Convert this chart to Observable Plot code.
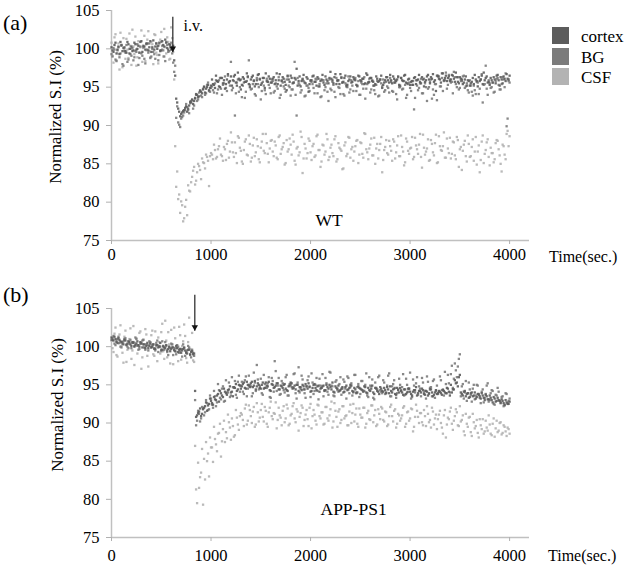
<!DOCTYPE html>
<html><head><meta charset="utf-8">
<script src="https://cdn.jsdelivr.net/npm/d3@7"></script>
<script src="https://cdn.jsdelivr.net/npm/@observablehq/plot@0.6"></script>
<style>
body{margin:0;background:#fff;}
#root{position:relative;width:630px;height:567px;overflow:hidden;font-family:"Liberation Serif","Times New Roman",serif;color:#000;background:#fff;}
.abs{position:absolute;white-space:nowrap;line-height:1;}
.ylab{transform:translate(-50%,-50%) rotate(-90deg);font-size:17px;}
.plab{font-size:22px;transform:translateY(-50%);}
.tlab{font-size:16px;transform:translateY(-50%);}
.sw{position:absolute;width:17px;height:17px;}
.lt{position:absolute;font-size:17px;transform:translateY(-50%);line-height:1;}
.panel{position:absolute;left:0;}
</style></head><body><div id="root"></div>
<script>
// sampling interval of each array (seconds); "2" arrays are the samples in between (offset 10 s)
const STEP = 20;
const OFFSET2 = 10;
const SERIES = ["cortex", "BG", "CSF"];
const COLORS = ["#5c5c5c", "#7b7b7b", "#b3b3b3"];
const X_TICKS = [0, 1000, 2000, 3000, 4000];
const Y_TICKS = [75, 80, 85, 90, 95, 100, 105];

// (a) WT  -- t = 0,20,...,4000
const wtCortex = [
100.2,99.6,100.8,99.9,99.3,100.5,100.1,99.7,100.9,99.4,
100.3,99.8,100.6,100.0,99.5,101.0,100.4,99.9,100.7,100.2,
99.6,101.1,100.3,100.0,100.8,99.8,100.5,101.2,100.1,100.6,
99.9,100.4,
96.5,93.0,91.8,91.5,91.9,92.3,91.8,92.6,93.0,92.8,93.6,94.0,93.8,94.4,94.7,94.3,95.0,94.6,95.2,
95.4,94.9,95.8,95.1,96.2,95.5,94.8,96.0,95.6,96.4,
95.9,96.6,95.2,96.1,94.7,96.3,95.7,96.8,95.4,96.0,
96.5,95.1,95.9,96.7,95.3,96.2,94.9,95.8,96.4,95.6,
96.1,95.4,96.8,95.9,95.2,96.3,95.7,94.6,96.0,96.5,
95.5,96.2,97.4,95.8,95.1,96.0,95.6,96.3,94.4,95.9,
96.4,95.7,95.2,96.1,95.8,96.6,95.3,96.0,95.5,97.0,
95.9,96.3,95.4,95.9,96.7,95.6,96.2,95.1,95.8,96.4,
95.7,96.0,95.3,96.5,95.9,96.1,95.4,96.8,95.6,96.2,
95.8,95.2,96.4,95.7,96.0,94.9,95.6,96.3,95.9,96.6,
95.5,96.1,95.8,96.4,95.2,95.9,96.5,95.6,96.0,95.3,
95.8,96.2,95.4,96.0,95.7,96.3,95.1,95.9,96.6,95.5,
96.1,95.7,94.5,96.4,96.0,96.8,95.9,96.5,96.2,95.8,
96.6,96.1,96.9,95.7,96.3,96.0,95.6,96.4,95.9,95.2,
95.7,95.4,96.0,95.1,95.8,96.5,96.9,96.2,95.6,95.3,
95.9,96.3,95.5,96.6,95.2,96.0,96.4,95.8,96.1,96.5
];
// t = 10,30,...,3990
const wtCortex2 = [
99.8,100.5,99.4,100.3,100.9,99.7,100.2,99.5,100.6,100.0,
99.7,100.8,99.9,100.4,100.9,99.6,100.3,100.7,99.8,101.0,
100.2,99.9,100.7,100.4,99.7,101.0,100.3,100.8,99.9,100.5,
100.2,
98.5,93.5,92.2,91.2,91.7,92.0,92.5,92.2,93.1,93.4,93.2,94.1,93.7,94.5,94.2,95.0,94.8,95.3,94.9,
96.0,95.3,96.5,95.7,95.0,96.2,95.9,95.4,96.7,95.8,
95.2,96.4,95.6,96.9,95.9,95.3,96.1,95.7,96.4,95.0,
96.3,95.8,95.4,96.6,96.0,95.5,96.2,96.8,95.7,96.1,
95.6,96.3,95.9,95.4,96.7,95.8,96.1,95.3,96.5,95.7,
96.2,95.6,96.0,95.2,96.4,95.8,96.6,95.5,96.1,95.4,
95.9,96.5,95.7,96.3,95.1,96.0,95.6,96.4,95.8,96.2,
96.1,95.5,96.7,95.9,95.4,96.2,95.7,96.5,95.3,96.0,
95.6,96.3,95.9,95.2,96.4,95.8,96.1,95.5,96.6,95.7,
96.2,95.7,95.4,96.1,95.8,96.5,95.3,95.9,96.3,95.6,
95.9,96.4,95.6,96.0,95.3,96.2,95.8,96.6,95.5,96.1,
95.7,95.3,96.3,95.9,96.6,95.5,96.0,95.7,96.4,96.0,
96.3,96.7,95.9,96.5,96.1,95.6,96.8,96.2,95.8,96.4,
96.0,96.5,95.7,96.3,95.5,96.1,95.4,96.0,95.2,95.8,
95.5,96.2,96.6,95.8,96.3,96.0,95.4,95.9,96.4,95.7,
96.2,95.6,96.0,96.5,95.9,96.3,95.5,96.1,96.7,96.0
];
const wtBG = [
99.3,100.1,98.6,99.8,98.9,100.4,97.8,99.5,98.3,100.0,
99.1,98.5,99.7,100.6,98.8,99.4,100.2,98.1,99.9,100.7,
99.0,99.6,98.7,100.3,99.2,100.9,99.8,98.4,100.5,99.7,
100.8,98.2,
97.8,92.5,90.1,90.9,91.3,92.0,92.4,91.6,93.2,92.2,93.5,93.2,94.3,93.9,94.8,94.0,95.3,94.5,94.9,
94.6,95.5,94.2,95.9,94.8,95.3,96.4,94.5,95.7,98.3,
94.9,91.3,95.6,94.4,96.0,95.2,93.6,95.8,98.5,94.7,
95.4,94.1,96.2,95.0,93.4,95.7,94.6,96.1,95.3,94.2,
95.8,94.5,95.1,96.3,94.0,95.6,94.8,96.0,95.2,93.9,
94.7,98.3,91.3,95.5,94.3,96.1,93.8,95.2,94.9,95.8,
95.4,94.2,96.0,95.1,93.7,95.9,94.6,95.5,93.2,94.8,
95.7,94.4,96.2,95.0,94.1,95.6,93.9,95.3,96.4,94.7,
95.2,96.1,94.5,95.8,94.0,95.4,96.3,94.8,95.6,94.3,
95.9,94.6,95.3,93.8,96.0,95.1,94.4,95.7,94.9,96.2,
94.5,95.6,94.1,96.3,95.0,94.7,95.8,93.6,95.4,94.9,
95.3,92.1,95.9,94.6,95.5,94.2,96.1,95.0,94.8,95.7,
93.5,94.0,95.4,96.5,95.1,96.2,95.8,96.9,95.3,96.0,
95.7,97.0,95.4,96.3,94.9,95.8,96.5,95.1,94.6,95.9,
94.4,95.2,94.1,95.6,94.8,96.7,95.3,97.8,94.0,95.5,
95.0,94.3,95.8,96.2,94.7,95.4,96.0,96.8,90.9,95.6
];
const wtBG2 = [
99.0,99.9,98.4,100.2,99.4,98.0,99.7,100.5,98.6,99.3,
100.1,98.9,99.6,97.9,100.3,99.1,98.7,100.6,99.5,98.8,
100.0,99.3,100.7,98.5,99.8,100.4,99.0,100.9,99.6,100.2,
99.4,
97.0,91.0,90.4,89.8,91.1,91.7,92.8,92.0,92.9,93.3,92.6,94.0,93.4,94.6,93.7,95.1,94.2,95.6,94.4,
95.1,94.3,95.9,94.7,96.2,94.0,95.5,94.9,96.5,95.2,
94.6,95.8,94.2,96.0,95.0,93.7,95.6,94.4,96.3,95.3,
94.8,95.9,93.9,95.4,96.1,94.5,95.2,94.1,95.7,94.9,
96.0,94.3,95.5,94.8,93.6,95.9,95.1,94.4,96.4,95.0,
94.7,95.6,94.0,96.2,95.3,94.6,95.8,93.9,95.2,94.5,
95.7,94.9,96.1,94.2,95.4,93.8,95.9,95.0,94.4,96.0,
94.6,95.3,93.7,95.8,94.9,96.3,94.1,95.5,95.0,94.3,
95.9,94.5,96.2,95.1,94.0,95.6,94.8,93.5,95.4,96.1,
94.7,95.2,94.1,95.8,93.9,95.5,96.0,94.6,95.1,94.3,
95.7,94.4,95.9,93.4,95.0,96.2,94.8,95.3,94.0,95.6,
94.5,95.8,93.6,95.2,94.9,96.1,94.2,95.5,93.2,95.0,
96.0,94.7,95.4,93.3,96.4,95.1,94.5,95.9,94.8,96.6,
95.6,94.2,96.3,95.0,94.7,95.8,96.4,94.9,95.5,94.3,
95.2,93.9,94.6,95.7,94.1,96.0,93.0,95.4,94.8,95.9,
94.9,95.6,94.4,96.1,95.3,94.7,96.3,95.0,89.9,95.8
];
const wtCSF = [
100.8,98.2,101.9,99.4,97.3,100.5,101.4,98.7,99.9,102.0,
97.9,100.3,101.6,98.9,99.5,102.4,100.1,98.4,101.2,99.7,
100.9,98.0,101.8,99.2,100.6,102.2,99.0,100.2,101.5,98.6,
102.8,99.6,
87.3,84.0,81.0,80.1,77.5,79.4,78.3,81.5,82.6,84.1,82.3,83.9,84.7,83.0,85.2,84.4,85.9,82.1,86.4,
85.6,86.8,85.9,87.3,86.2,85.4,86.9,87.6,85.8,89.1,
86.5,87.8,85.1,88.4,86.7,85.0,87.9,86.2,88.7,85.3,
87.4,86.0,88.2,85.6,87.1,88.9,86.4,87.7,85.2,88.0,
86.6,87.9,85.8,88.5,86.3,87.2,84.9,88.1,86.9,87.5,
88.8,85.4,87.0,86.1,89.2,83.8,87.6,85.7,88.3,86.5,
87.3,85.9,88.6,86.8,84.6,87.5,86.2,88.9,85.5,87.1,
86.4,88.2,85.3,87.7,86.9,84.3,87.4,86.0,88.5,85.8,
87.2,86.6,88.0,85.1,87.8,86.3,89.0,86.9,85.6,87.5,
86.1,88.4,87.0,85.7,87.6,83.9,86.8,88.1,86.2,87.3,
85.4,87.9,86.5,88.6,86.0,87.2,84.8,88.3,86.7,87.0,
88.5,85.9,87.4,86.3,88.9,84.5,87.1,86.6,88.2,85.5,
87.6,86.1,88.8,85.2,87.3,86.7,89.1,85.8,87.0,88.4,
86.3,87.8,85.6,88.1,86.9,84.2,87.5,86.0,88.7,85.9,
87.2,85.4,88.5,86.6,83.9,87.9,85.1,86.8,88.2,84.8,
86.4,85.2,87.7,88.0,86.1,84.0,87.3,85.6,89.3,88.6
];
const wtCSF2 = [
99.1,101.5,98.5,100.7,102.1,97.6,100.0,101.3,98.8,100.4,
102.5,99.3,97.8,101.0,100.2,98.3,101.7,99.8,102.3,98.9,
100.6,101.9,99.5,98.1,101.2,100.0,102.6,99.4,100.9,98.7,
101.4,
96.0,82.0,80.4,78.6,79.6,77.9,80.3,82.2,81.4,83.3,84.6,82.8,85.0,84.2,85.7,85.1,86.2,85.4,86.0,
86.2,87.5,85.7,86.9,88.3,86.0,87.2,85.5,88.0,86.6,
87.8,85.9,86.4,88.6,87.1,85.3,86.8,88.2,86.1,87.6,
85.8,88.4,86.5,87.3,85.2,87.9,86.7,88.9,86.3,87.0,
88.1,86.0,87.4,85.6,88.7,86.9,87.7,85.1,86.6,88.3,
86.2,87.9,84.9,87.2,86.5,88.5,85.7,87.0,86.4,88.0,
85.5,87.6,86.1,88.8,86.8,85.3,87.4,86.6,88.2,85.9,
87.5,86.0,88.6,85.6,87.1,86.7,84.4,87.8,86.3,88.4,
86.9,85.4,87.3,88.1,86.2,87.7,85.8,88.9,86.5,87.0,
88.3,86.1,85.0,87.6,86.8,88.5,85.5,87.2,86.4,88.0,
86.7,88.2,85.7,87.4,86.0,88.7,86.6,85.2,87.9,86.3,
87.1,85.6,88.4,86.9,87.5,85.9,88.8,86.2,87.0,85.4,
88.1,86.5,87.7,85.1,88.6,86.8,87.3,85.8,88.3,86.4,
85.7,87.9,86.1,88.5,84.6,87.2,86.7,88.0,85.3,87.6,
86.0,88.2,86.6,84.9,87.4,85.5,88.7,86.3,87.8,85.9,
87.1,86.4,85.6,88.1,86.9,85.0,87.5,86.2,88.9,87.3
];

// (b) APP-PS1
const apCortex = [
101.2,100.8,101.0,100.5,100.9,100.6,100.3,100.8,100.4,100.6,
100.1,100.5,100.2,100.7,100.0,100.4,100.3,99.8,100.5,100.1,
99.9,100.3,99.7,100.2,100.0,99.6,100.1,99.8,99.5,100.0,
99.7,99.9,99.4,99.8,99.6,99.2,99.7,99.5,99.1,99.6,
99.3,99.0,
94.2,91.0,91.5,90.9,91.8,92.2,91.6,92.5,92.9,92.4,
93.1,93.6,92.8,93.9,93.4,94.1,93.7,94.4,94.0,93.5,
94.6,94.2,95.0,94.5,
95.1,94.6,95.4,94.9,95.2,94.7,95.5,94.8,95.0,94.5,
95.3,94.6,94.9,95.4,94.2,95.0,94.7,95.2,94.4,94.9,
94.6,95.1,94.3,94.8,95.3,94.5,94.9,95.0,94.2,94.7,
95.0,94.4,94.8,95.2,94.1,94.6,95.1,94.3,94.9,94.5,
94.8,94.2,95.0,94.5,94.7,95.3,94.0,94.6,94.9,94.3,
94.7,94.1,94.9,94.4,95.0,94.2,94.6,93.9,94.8,94.5,
94.3,94.8,94.0,94.6,94.2,94.9,93.8,94.5,94.1,94.7,
94.2,94.6,93.9,94.4,94.8,94.0,94.5,93.7,94.3,94.6,
94.0,94.4,93.8,94.5,94.1,93.6,94.3,94.7,93.9,94.2,
94.5,93.8,94.2,93.6,94.4,94.0,93.7,94.3,93.9,94.1,
93.7,94.2,93.9,94.5,93.6,94.0,94.4,95.2,94.8,96.3,
93.8,94.1,93.5,93.9,93.4,94.0,93.6,93.2,93.8,93.5,
93.9,93.3,93.7,93.1,93.6,93.0,93.4,92.8,93.3,92.9,
93.1,92.6,93.0,92.5,92.8
];
const apCortex2 = [
100.9,101.3,100.6,101.1,100.7,100.4,100.9,100.2,100.7,100.3,
100.6,100.0,100.4,100.2,100.6,99.9,100.3,100.1,99.8,100.4,
100.0,99.7,100.2,99.9,100.5,99.6,99.9,100.2,99.7,99.4,
99.9,99.6,100.1,99.3,99.7,99.5,99.9,99.2,99.6,99.0,
99.4,99.1,
90.8,91.3,91.9,91.2,92.0,92.7,92.3,93.2,92.6,93.4,93.0,93.8,
94.2,93.6,94.5,93.9,94.3,94.8,94.1,94.7,95.1,94.4,94.9,
94.8,95.3,94.5,95.0,94.7,95.4,94.9,94.4,95.2,94.6,
95.0,94.5,95.3,94.8,94.3,95.1,94.6,94.9,95.2,94.4,
94.8,95.0,94.5,94.2,94.9,95.2,94.6,94.4,95.0,94.7,
94.3,94.8,95.1,94.5,94.7,94.2,95.0,94.6,94.8,94.1,
94.6,94.9,94.3,94.7,95.0,94.4,94.1,94.8,94.5,94.2,
94.5,94.0,94.7,94.3,94.6,94.9,94.1,94.4,94.0,94.6,
94.4,94.1,94.7,93.9,94.3,94.5,94.0,94.6,94.2,93.8,
94.5,94.1,94.3,94.7,93.9,94.2,94.4,93.8,94.6,94.0,
94.2,93.7,94.4,94.0,94.5,93.8,94.1,94.3,93.6,94.2,
94.0,94.3,93.7,94.1,93.9,94.4,93.5,94.0,93.8,94.2,
93.9,94.3,94.0,94.6,94.1,95.0,94.4,95.6,95.3,96.0,
94.0,93.6,94.2,93.8,93.3,93.9,93.5,94.0,93.4,93.7,
93.2,93.6,93.0,93.5,93.1,93.3,92.7,93.2,92.9,93.0,
92.6,92.9,92.4,92.7,92.5
];
const apBG = [
100.9,101.4,100.2,101.0,100.5,99.9,100.7,101.1,100.0,100.4,
99.8,100.6,101.2,100.1,99.7,100.5,100.9,99.6,100.2,100.7,
99.9,100.3,99.5,100.8,100.1,99.4,100.0,100.6,99.3,99.9,
100.4,98.9,99.8,100.2,99.2,99.7,100.3,98.8,99.5,99.9,
98.6,99.2,
93.0,90.3,91.2,90.6,91.9,91.4,92.6,91.8,93.2,92.0,
93.5,92.7,94.3,93.1,94.8,92.9,94.0,95.3,93.6,94.7,
95.5,93.3,96.2,94.9,
94.1,95.6,93.5,96.2,94.8,93.9,95.3,97.6,94.4,95.8,
93.7,95.1,94.6,96.0,93.3,95.5,98.1,94.2,95.9,93.8,
95.2,94.0,96.3,93.6,95.0,94.7,96.5,93.2,97.3,94.5,
95.7,93.9,94.8,96.1,93.4,95.3,94.2,95.9,93.1,94.9,
96.4,94.3,95.2,93.7,96.6,94.8,93.5,95.6,94.1,96.0,
94.5,95.4,93.2,95.9,94.7,93.6,96.3,94.0,95.1,93.8,
95.5,94.2,96.5,93.4,94.9,95.7,93.1,94.6,96.0,94.3,
93.9,95.3,94.0,96.2,93.5,94.8,95.6,93.3,94.4,95.0,
94.7,93.6,95.8,94.1,96.6,93.4,94.9,95.2,93.7,94.5,
95.9,94.0,93.2,95.4,94.6,93.5,95.7,94.2,93.8,96.1,
94.3,93.6,95.1,96.3,94.0,97.5,95.8,96.9,97.4,99.0,
94.8,93.2,95.5,93.9,94.4,92.8,95.0,93.6,94.9,93.3,
94.1,92.7,93.8,95.2,93.0,94.3,92.5,93.7,94.6,92.9,
93.4,92.2,93.9,92.6,93.2
];
const apBG2 = [
101.1,100.4,100.8,101.3,100.0,100.6,101.0,100.3,99.8,100.9,
100.5,100.1,101.0,99.6,100.4,100.8,99.9,100.3,99.5,100.6,
100.2,99.8,100.5,99.3,100.0,100.7,99.6,100.1,98.9,99.8,
100.3,99.5,99.0,100.0,99.4,98.7,99.8,99.3,100.1,98.9,
99.6,98.8,
89.7,91.6,90.2,92.1,91.0,93.0,91.7,93.6,92.4,94.2,92.2,95.1,
93.3,94.5,92.8,95.6,94.0,93.4,96.0,94.6,93.7,95.4,94.1,
95.4,93.8,96.1,94.5,95.0,93.5,96.6,94.2,95.7,94.8,
93.9,96.3,94.6,95.2,93.4,95.9,94.1,96.8,94.9,93.7,
95.5,94.3,96.0,93.6,95.1,94.7,96.4,93.9,95.3,94.0,
96.2,94.4,93.3,95.6,94.8,96.5,93.8,95.0,94.2,95.8,
94.6,93.5,95.9,94.1,96.7,94.9,93.6,95.4,94.3,95.1,
93.7,95.7,94.5,96.1,93.9,95.2,94.0,96.3,94.7,93.4,
95.5,94.2,95.0,93.6,96.0,94.8,93.3,95.3,94.4,96.2,
94.1,95.6,93.8,94.9,96.5,93.5,95.1,94.6,93.9,95.8,
94.3,96.4,93.7,95.0,94.5,93.2,95.7,94.0,96.0,94.8,
93.5,95.3,94.2,96.1,93.8,94.7,95.5,93.3,94.9,94.1,
95.6,94.4,96.7,93.9,95.2,96.4,94.6,97.8,96.0,98.4,
93.5,95.1,94.0,92.9,95.3,93.7,94.5,93.1,95.0,93.8,
92.6,94.4,93.3,94.9,92.8,93.9,94.2,92.4,93.6,94.1,
92.7,93.5,92.3,93.8,92.9
];
const apCSF = [
100.8,99.3,102.5,98.7,101.6,100.1,97.9,102.1,99.6,101.0,
98.4,102.7,100.5,99.1,101.8,97.1,100.9,102.3,98.8,100.2,
101.5,99.0,102.0,98.1,100.6,101.9,99.4,103.4,98.6,100.3,
102.2,97.7,101.1,99.8,102.6,98.3,100.7,101.4,97.9,103.8,
99.5,98.2,
87.0,79.5,81.5,83.5,79.3,82.6,85.0,83.0,86.8,84.9,
87.9,86.3,88.7,85.6,89.2,87.5,88.0,90.1,87.8,89.6,
88.4,90.7,89.1,91.3,
90.4,91.9,89.8,92.3,90.9,91.5,89.5,92.6,90.2,91.7,
90.8,92.1,89.9,91.4,92.8,90.5,91.2,89.3,92.0,90.7,
91.6,90.1,92.4,89.7,91.0,92.2,90.6,91.8,89.0,91.3,
92.0,90.4,91.7,89.6,92.5,90.9,91.1,89.8,92.3,90.6,
91.4,89.9,92.1,90.3,91.8,89.4,92.6,90.8,91.5,90.0,
92.2,90.6,91.0,89.7,92.4,91.3,90.2,91.9,89.5,91.1,
90.7,92.0,89.9,91.6,90.4,92.3,91.0,89.6,91.8,90.5,
91.9,90.2,91.4,89.8,92.1,90.9,91.6,89.4,91.2,90.3,
91.0,92.2,89.9,91.5,90.6,91.8,89.5,92.4,90.8,91.3,
90.1,91.7,89.6,91.2,90.4,92.0,89.8,91.1,90.5,91.6,
89.4,91.0,88.1,90.7,91.5,89.9,90.3,91.8,89.7,92.2,
90.4,88.9,91.2,89.5,90.8,88.3,90.1,89.6,88.7,90.5,
89.2,88.6,90.3,89.0,89.8,88.4,90.6,89.3,88.8,90.0,
88.5,89.7,88.9,89.4,88.6
];
const apCSF2 = [
99.8,101.7,98.9,100.4,102.8,99.2,101.3,98.0,100.7,102.4,
99.5,97.6,101.1,100.2,102.0,98.6,99.9,101.6,97.4,100.5,
102.1,98.8,100.0,101.2,99.1,103.0,98.4,100.8,101.9,97.8,
100.3,102.5,99.3,98.1,101.5,100.1,102.9,98.5,100.6,99.7,
101.8,98.0,
81.3,84.8,82.9,86.6,85.3,87.5,86.0,88.1,86.8,89.5,87.2,88.6,
89.9,87.6,90.3,88.8,91.1,89.4,90.6,88.2,91.7,89.8,90.9,
91.1,89.6,92.4,90.3,91.7,90.0,92.1,89.8,91.4,90.7,
92.5,90.2,91.6,89.5,92.0,90.9,91.3,92.7,90.4,91.0,
89.7,92.2,90.6,91.9,89.9,91.2,92.6,90.1,91.5,90.8,
92.3,89.6,91.1,90.5,92.0,89.3,91.7,90.3,92.4,90.9,
91.4,89.8,92.1,90.6,91.0,92.8,90.2,91.6,89.5,91.8,
90.4,92.2,90.9,89.7,91.5,90.0,92.5,91.1,89.9,91.9,
90.7,92.0,89.4,91.3,90.5,92.3,90.1,91.7,89.8,91.2,
92.1,90.4,91.5,89.6,90.9,92.4,90.2,91.8,89.9,91.0,
90.6,92.0,89.5,91.4,90.3,91.9,88.9,90.8,91.6,90.0,
91.3,89.7,90.9,92.2,90.1,89.4,91.5,90.6,89.2,91.1,
90.0,88.6,91.7,89.8,90.5,92.0,89.1,90.9,91.4,89.6,
90.2,91.0,88.4,89.9,90.7,88.8,91.2,89.3,90.4,88.1,
89.7,90.5,88.9,89.4,91.0,88.6,89.9,88.2,90.3,89.0,
90.1,88.7,89.5,88.3,89.2
];

// annotations: injection arrow (time, top value, tip value), group label
const injA = [{t: 616, top: 104.2, tip: 99.6, label: "i.v.", lt: 724, lv: 103.0}];
const injB = [{t: 837, top: 106.8, tip: 102.1}];
const groupA = [{t: 2050, v: 77.6, label: "WT"}];
const groupB = [{t: 2100, v: 78.7, label: "APP-PS1"}];

function rows(sets) {
  const out = [];
  // draw order: CSF first, then BG, then cortex on top
  [["CSF", sets[2]], ["BG", sets[1]], ["cortex", sets[0]]].forEach(([s, [even, odd]]) => {
    even.forEach((v, i) => out.push({t: i * STEP, v, series: s}));
    odd.forEach((v, i) => out.push({t: OFFSET2 + i * STEP, v, series: s}));
  });
  return out;
}

function panel({data, height, mt, mb, pad, inj, group, ivText}) {
  const marks = [
    Plot.ruleY([75], {stroke: "#c0c0c0", strokeWidth: 1.5}),
    Plot.ruleX([0], {stroke: "#c0c0c0", strokeWidth: 1.5}),
    Plot.axisX({ticks: X_TICKS, tickFormat: d => String(d), tickSize: 4, tickPadding: pad, stroke: "#b0b0b0", fill: "black", label: null}),
    Plot.axisY({ticks: Y_TICKS, tickSize: 5, tickPadding: 7, stroke: "#b0b0b0", fill: "black", label: null}),
    Plot.dot(data, {x: "t", y: "v", fill: "series", symbol: "square", r: 1.3, fillOpacity: 0.9}),
    Plot.link(inj, {x1: "t", x2: "t", y1: "top", y2: "tip", stroke: "#333", strokeWidth: 1.3}),
    Plot.dot(inj, {x: "t", y: "tip", symbol: "triangle", r: 2.4, rotate: 180, fill: "#111", dy: -3.5}),
    Plot.text(group, {x: "t", y: "v", text: "label", textAnchor: "start", fontSize: 17.5})
  ];
  if (ivText) marks.push(Plot.text(inj, {x: "lt", y: "lv", text: "label", textAnchor: "start", fontSize: 16}));
  return Plot.plot({
    width: 630, height,
    marginLeft: 111, marginRight: 101, marginTop: mt, marginBottom: mb,
    style: {fontFamily: "Liberation Serif, Times New Roman, serif", fontSize: "16.5px", background: "transparent", overflow: "visible"},
    x: {domain: [0, 4200]},
    y: {domain: [75, 105]},
    color: {domain: SERIES, range: COLORS},
    marks
  });
}

const root = document.getElementById("root");
const pA = panel({data: rows([[wtCortex, wtCortex2], [wtBG, wtBG2], [wtCSF, wtCSF2]]), height: 283, mt: 10, mb: 43, pad: 4, inj: injA, group: groupA, ivText: true});
pA.classList.add("panel"); pA.style.top = "0px";
const pB = panel({data: rows([[apCortex, apCortex2], [apBG, apBG2], [apCSF, apCSF2]]), height: 284, mt: 25, mb: 30, pad: 8, inj: injB, group: groupB, ivText: false});
pB.classList.add("panel"); pB.style.top = "283px";
root.appendChild(pA); root.appendChild(pB);

function addDiv(cls, text, left, top) {
  const d = document.createElement("div");
  d.className = "abs " + cls; d.textContent = text;
  d.style.left = left + "px"; d.style.top = top + "px";
  root.appendChild(d); return d;
}
addDiv("plab", "(a)", 3, 23);
addDiv("plab", "(b)", 3, 295);
addDiv("ylab", "Normalized S.I (%)", 55, 117);
addDiv("ylab", "Normalized S.I (%)", 57, 405);
addDiv("tlab", "Time(sec.)", 549, 257);
addDiv("tlab", "Time(sec.)", 548, 556);

// legend
const legTops = [27, 48, 68];
SERIES.forEach((s, i) => {
  const sw = document.createElement("div");
  sw.className = "sw"; sw.style.left = "552px"; sw.style.top = legTops[i] + "px"; sw.style.background = COLORS[i];
  root.appendChild(sw);
  const t = document.createElement("div");
  t.className = "lt"; t.textContent = s; t.style.left = "581px"; t.style.top = (legTops[i] + 8.5) + "px";
  root.appendChild(t);
});
</script></body></html>
